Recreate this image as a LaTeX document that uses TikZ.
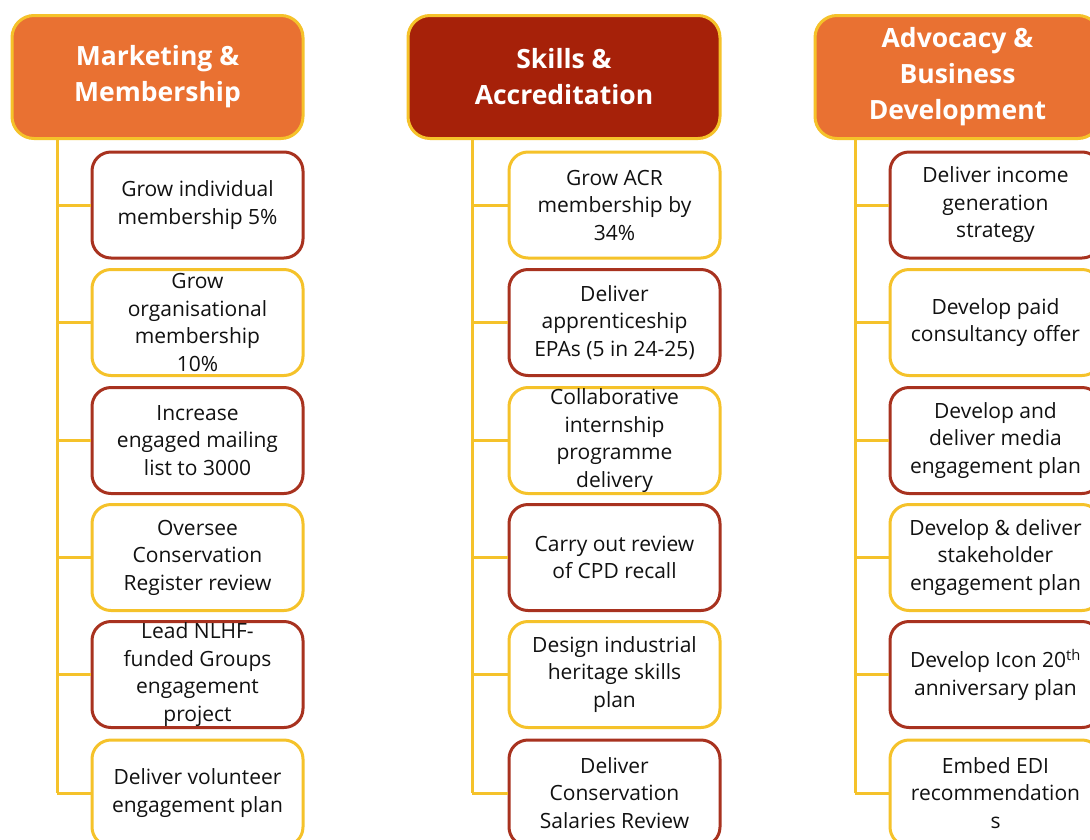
\documentclass[tikz,border=0pt]{standalone}
\usepackage{fontspec}
\setmainfont{Open Sans}
\definecolor{hdorange}{HTML}{E97132}
\definecolor{hdred}{HTML}{A62109}
\definecolor{gold}{HTML}{F5C22A}
\definecolor{rust}{HTML}{A8321F}
\definecolor{ink}{HTML}{111111}
\begin{document}
\begin{tikzpicture}[x=1pt,y=-1pt,
  head/.style={draw=gold, line width=3pt, rounded corners=22pt,
    minimum height=123pt, inner sep=0pt, text=white, align=center,
    font=\bfseries\fontsize{26.5}{36}\selectfont},
  taskbox/.style={fill=white, line width=3pt, rounded corners=19pt,
    minimum width=211pt, minimum height=106pt, inner sep=0pt,
    align=center, text=ink, font=\fontsize{21}{27.5}\selectfont},
  redbox/.style={taskbox, draw=rust},
  goldbox/.style={taskbox, draw=gold},
  conn/.style={draw=gold, line width=3pt}]

\clip (0,0) rectangle (1090,839);
\fill[white] (0,0) rectangle (1090,839);

% trunk positions of the three columns
\coordinate (v1) at (57,0);
\coordinate (v2) at (472,0);
\coordinate (v3) at (855,0);

% column headers
\node[head, fill=hdorange, minimum width=291pt] (h1) at (157.5,77) {Marketing \&\\Membership};
\node[head, fill=hdred, minimum width=312pt] (h2) at (564,77) {Skills \&\\Accreditation};
\node[head, fill=hdorange, minimum width=285pt] (h3) at (957.5,77) {Advocacy \&\\Business\\Development};

% Marketing & Membership tasks
\node[redbox]  (a1) at (197.5,205)   {Grow individual\\membership 5\%};
\node[goldbox] (a2) at (197.5,322.5) {Grow\\organisational\\membership\\10\%};
\node[redbox]  (a3) at (197.5,440.5) {Increase\\engaged mailing\\list to 3000};
\node[goldbox] (a4) at (197.5,557.5) {Oversee\\Conservation\\Register review};
\node[redbox]  (a5) at (197.5,674.5) {Lead NLHF-\\funded Groups\\engagement\\project};
\node[goldbox] (a6) at (197.5,793)   {Deliver volunteer\\engagement plan};

% Skills & Accreditation tasks
\node[goldbox] (b1) at (614.5,205)   {Grow ACR\\membership by\\34\%};
\node[redbox]  (b2) at (614.5,322.5) {Deliver\\apprenticeship\\EPAs (5 in 24-25)};
\node[goldbox] (b3) at (614.5,440.5) {Collaborative\\internship\\programme\\delivery};
\node[redbox]  (b4) at (614.5,557.5) {Carry out review\\of CPD recall};
\node[goldbox] (b5) at (614.5,674.5) {Design industrial\\heritage skills\\plan};
\node[redbox]  (b6) at (614.5,793)   {Deliver\\Conservation\\Salaries Review};

% Advocacy & Business Development tasks
\node[redbox]  (c1) at (995.5,205)   {Deliver income\\generation\\strategy};
\node[goldbox] (c2) at (995.5,322.5) {Develop paid\\consultancy offer};
\node[redbox]  (c3) at (995.5,440.5) {Develop and\\deliver media\\engagement plan};
\node[goldbox] (c4) at (995.5,557.5) {Develop \& deliver\\stakeholder\\engagement plan};
\node[redbox]  (c5) at (995.5,674.5) {Develop Icon 20\textsuperscript{th}\\anniversary plan};
\node[goldbox] (c6) at (995.5,793)   {Embed EDI\\recommendation\\s};

% trunks and branches
\draw[conn] (h1.south -| v1) -- (a6.west -| v1);
\draw[conn] (h2.south -| v2) -- (b6.west -| v2);
\draw[conn] (h3.south -| v3) -- (c6.west -| v3);
\foreach \k in {1,...,6}{
  \draw[conn] (a\k.west -| v1) -- (a\k.west);
  \draw[conn] (b\k.west -| v2) -- (b\k.west);
  \draw[conn] (c\k.west -| v3) -- (c\k.west);
}
\end{tikzpicture}
\end{document}
